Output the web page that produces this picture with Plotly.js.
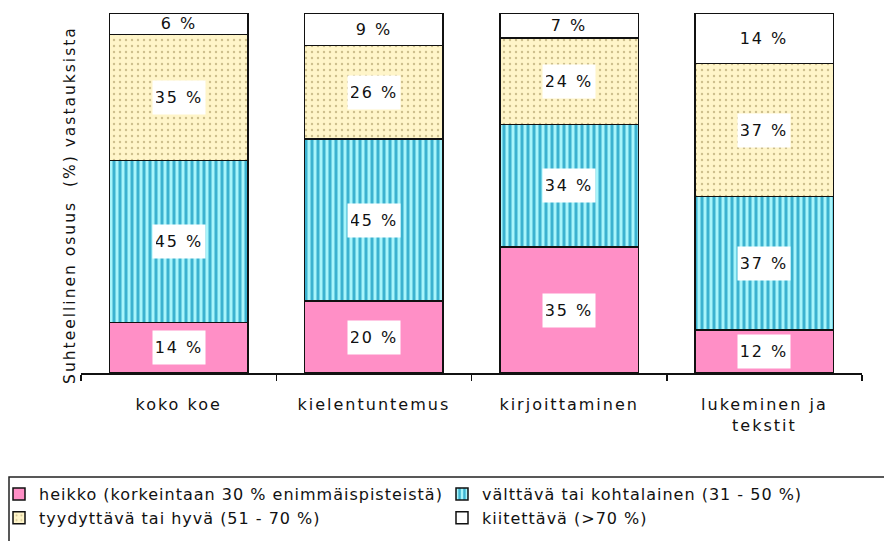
<!DOCTYPE html>
<html>
<head>
<meta charset="utf-8">
<script src="https://cdn.plot.ly/plotly-3.0.1.min.js"></script>
<style>
  html, body { margin: 0; padding: 0; background: #fff; }
  #chart { width: 884px; height: 541px; }
  .xtick text { letter-spacing: 2px; }
  .legendtext { letter-spacing: 1px; }
  .annotation-text { letter-spacing: 2px; }
</style>
</head>
<body>
<div id="chart"></div>
<script>
// ---- data ----
const categories = ['koko koe', 'kielentuntemus', 'kirjoittaminen', 'lukeminen ja<br>tekstit'];
const heikko = [14, 20, 35, 12];
const valttava = [45, 45, 34, 37];
const tyydyttava = [35, 26, 24, 37];
const kiitettava = [6, 9, 7, 14];
const seriesNames = [
  'heikko (korkeintaan 30 % enimmäispisteistä)',
  'välttävä tai kohtalainen (31 - 50 %)',
  'tyydyttävä tai hyvä (51 - 70 %)',
  'kiitettävä (>70 %)'
];
const yTitle = 'Suhteellinen osuus \u00a0(%) vastauksista';

// ---- styles ----
const FONT = 'DejaVu Sans, Verdana, sans-serif';
const seriesData = [heikko, valttava, tyydyttava, kiitettava];
const markers = [
  { color: '#ff8fc6', line: { color: '#111', width: 1.5 } },
  { color: '#a8f5fb', line: { color: '#111', width: 1.5 },
    pattern: { shape: '|', bgcolor: '#a8f5fb', fgcolor: '#3bb2d0', size: 6, solidity: 0.5, fillmode: 'replace' } },
  { color: '#fff5c9', line: { color: '#111', width: 1.5 },
    pattern: { shape: '.', bgcolor: '#fff5c9', fgcolor: '#cdbf8c', size: 6, solidity: 0.12, fillmode: 'replace' } },
  { color: '#ffffff', line: { color: '#111', width: 1.5 } }
];

const traces = seriesData.map((vals, i) => ({
  type: 'bar',
  name: seriesNames[i],
  x: categories,
  y: vals,
  marker: markers[i],
  hoverinfo: 'skip'
}));

// labels centred in each segment
const annotations = [];
categories.forEach((cat, ci) => {
  let base = 0;
  seriesData.forEach((vals, si) => {
    const v = vals[ci];
    annotations.push({
      x: cat, y: base + v / 2, xref: 'x', yref: 'y',
      text: v + ' %', showarrow: false,
      font: { family: FONT, size: 16, color: '#111' },
      bgcolor: si === 3 ? 'rgba(0,0,0,0)' : '#ffffff',
      width: 46, height: 27, borderpad: 3
    });
    base += v;
  });
});

// y axis title
annotations.push({
  xref: 'paper', yref: 'paper', x: -0.0137, y: 0.467,
  xanchor: 'center', yanchor: 'middle', textangle: -90,
  text: yTitle, showarrow: false,
  font: { family: FONT, size: 15.5, color: '#111' }
});

const layout = {
  width: 884, height: 541,
  margin: { l: 81, r: 0, t: 13, b: 168, autoexpand: false },
  paper_bgcolor: '#ffffff', plot_bgcolor: '#ffffff',
  barmode: 'stack',
  bargap: 0.29,
  font: { family: FONT, size: 16, color: '#111' },
  xaxis: {
    domain: [0, 781 / 803],
    type: 'category',
    showline: true, linecolor: '#111', linewidth: 1.5,
    ticks: 'outside', tickson: 'boundaries', ticklen: 6, tickcolor: '#111', tickwidth: 1.5,
    ticklabelstandoff: 16,
    tickfont: { family: FONT, size: 16, color: '#111' },
    showgrid: false, zeroline: false, fixedrange: true
  },
  yaxis: {
    range: [0, 100],
    showline: false, showticklabels: false, ticks: '',
    showgrid: false, zeroline: false, fixedrange: true
  },
  showlegend: true,
  legend: {
    orientation: 'h',
    x: (-1 - 81) / 803, xanchor: 'left',
    y: -(477 - 373) / 360, yanchor: 'top',
    traceorder: 'normal',
    entrywidth: 398, entrywidthmode: 'pixels',
    bgcolor: 'rgba(0,0,0,0)', borderwidth: 0,
    font: { family: FONT, size: 16, color: '#111' }
  },
  shapes: [{
    type: 'rect', xref: 'paper', yref: 'paper',
    x0: (9 - 81) / 803, x1: (905 - 81) / 803,
    y0: -(570 - 373) / 360, y1: -(477 - 373) / 360,
    line: { color: '#222', width: 1.5 }, fillcolor: 'rgba(0,0,0,0)'
  }],
  annotations: annotations
};

Plotly.newPlot('chart', traces, layout, { displayModeBar: false, staticPlot: true });
</script>
</body>
</html>
